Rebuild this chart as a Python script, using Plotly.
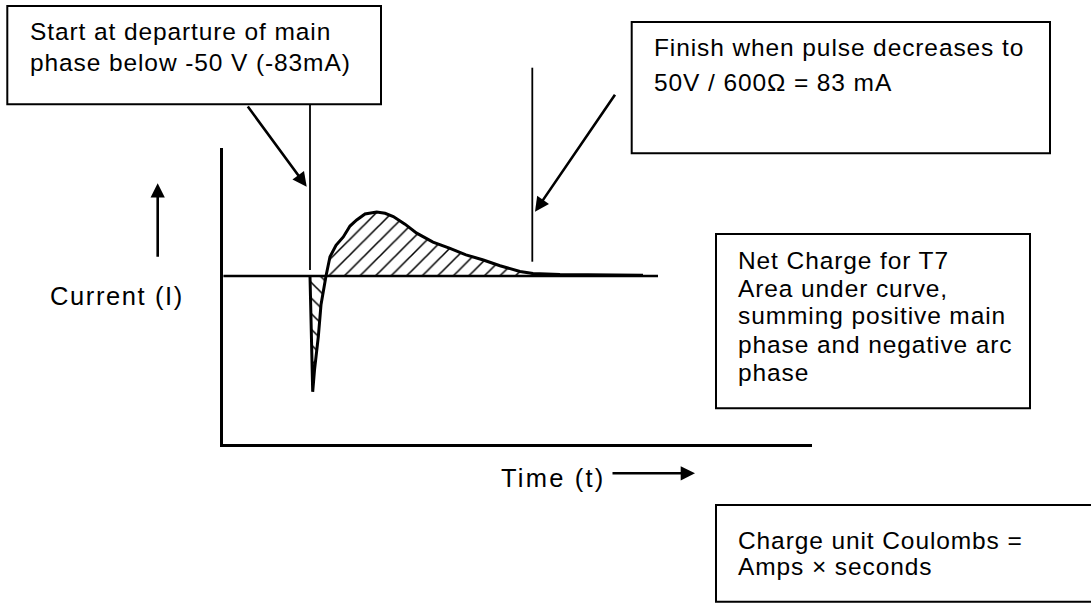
import plotly.graph_objects as go

# ---------------- data (arbitrary schematic units) ----------------
# time axis in arbitrary units, current normalised to the main-phase peak
t_baseline = [0.07, 43.6]
i_baseline = [0.0, 0.0]

# negative arc phase (spike)
t_arc = [8.8, 8.88, 8.95, 9.07, 9.25, 9.63, 9.9, 10.13, 10.4]
i_arc = [0.0, -0.6, -1.3, -1.81, -1.47, -0.95, -0.45, -0.22, 0.0]

# positive main phase
t_main = [10.4, 10.8, 11.4, 12.13, 12.8, 13.47, 14.3, 15.47, 16.3, 17.13, 18.3,
          19.47, 21.1, 22.8, 24.4, 26.13, 27.8, 29.8, 31.1, 33.8, 37.8, 42.1]
i_main = [0.0, 0.30, 0.48, 0.61, 0.78, 0.875, 0.97, 1.0, 0.98, 0.93, 0.81,
          0.67, 0.53, 0.43, 0.33, 0.25, 0.16, 0.07, 0.04, 0.023, 0.016, 0.01]

t_start = 8.8    # start marker
t_finish = 31.03 # finish marker

box1_lines = ["Start at departure of main", "phase below -50 V (-83mA)"]
box2_lines = ["Finish when pulse decreases to", "50V / 600\u03a9 = 83 mA"]
box3_lines = ["Net Charge for T7", "Area under curve,", "summing positive main",
              "phase and negative arc", "phase"]
box4_lines = ["Charge unit Coulombs =", "Amps \u00d7 seconds"]
y_label = "Current (I)"
x_label = "Time (t)"

# ---------------- layout helpers ----------------
W, H = 1091, 603
def PX(x):
    return x / W
def PY(y):
    return 1 - y / H

FONT = "Liberation Sans, Arial, sans-serif"
BOXFS = 24.5
LBLFS = 25.5

def styled(s, sp):
    return '<span style="letter-spacing:%.1fpx">%s</span>' % (sp, s)

fig = go.Figure()

hatch_neg = dict(shape="\\", size=11, solidity=0.14, fgcolor="black", bgcolor="white", fillmode="replace")
hatch_pos = dict(shape="/", size=11, solidity=0.14, fgcolor="black", bgcolor="white", fillmode="replace")

fig.add_trace(go.Scatter(x=t_arc, y=i_arc, mode="lines", line=dict(width=0, color="black"),
                         fill="tozeroy", fillpattern=hatch_neg, hoverinfo="skip"))
fig.add_trace(go.Scatter(x=t_main, y=i_main, mode="lines", line=dict(width=0, color="black"),
                         fill="tozeroy", fillpattern=hatch_pos, hoverinfo="skip"))
fig.add_trace(go.Scatter(x=t_baseline, y=i_baseline, mode="lines",
                         line=dict(width=2.7, color="black"), hoverinfo="skip"))
fig.add_trace(go.Scatter(x=t_arc + t_main[1:], y=i_arc + i_main[1:], mode="lines",
                         line=dict(width=3, color="black"), hoverinfo="skip"))

shapes = []
# marker lines
shapes.append(dict(type="line", xref="x", yref="paper", x0=t_start, x1=t_start,
                   y0=PY(105), y1=PY(270), line=dict(color="black", width=1.8)))
shapes.append(dict(type="line", xref="x", yref="paper", x0=t_finish, x1=t_finish,
                   y0=PY(67.7), y1=PY(261.7), line=dict(color="black", width=1.8)))
# text boxes
for (x0, y0, x1, y1) in [(7.3, 6, 381, 104.3), (631.7, 22, 1050, 153.3),
                         (716, 234, 1030, 408.3), (716, 505, 1100, 601.7)]:
    shapes.append(dict(type="rect", xref="paper", yref="paper", x0=PX(x0), x1=PX(x1),
                       y0=PY(y0), y1=PY(y1), line=dict(color="black", width=2)))

ann = []
def add_lines(lines, x, ys, fs, sp):
    for s, y in zip(lines, ys):
        ann.append(dict(text=styled(s, sp), x=PX(x - 1), y=PY(y), xref="paper", yref="paper",
                        xanchor="left", yanchor="middle", showarrow=False,
                        font=dict(family=FONT, size=fs, color="black")))

add_lines(box1_lines, 29.3, [32, 63], BOXFS, 0.9)
add_lines(box2_lines, 653.3, [48, 82.5], BOXFS, 0.9)
add_lines(box3_lines, 736.7, [260, 288, 316, 344, 372], BOXFS, 0.9)
add_lines(box4_lines, 736.7, [540, 566], BOXFS, 0.9)
add_lines([y_label], 49.3, [296], LBLFS, 1.6)
add_lines([x_label], 500, [477.5], LBLFS, 2.2)

# arrows (tip x,y ; tail offsets in px)
def arrow(tx, ty, sx, sy):
    ann.append(dict(text="", x=PX(tx), y=PY(ty), xref="paper", yref="paper",
                    ax=sx - tx, ay=sy - ty, axref="pixel", ayref="pixel",
                    showarrow=True, arrowhead=2, arrowsize=1.1, arrowwidth=2.6,
                    arrowcolor="black", standoff=0))
arrow(306.7, 186.7, 246.7, 105)
arrow(535, 211.7, 616, 93.3)
arrow(157.7, 183.3, 157.7, 258.3)
arrow(695, 473.3, 611, 473.3)

fig.update_layout(
    width=W, height=H, margin=dict(l=0, r=0, t=0, b=0),
    paper_bgcolor="white", plot_bgcolor="white", showlegend=False,
    shapes=shapes, annotations=ann,
    xaxis=dict(domain=[PX(223.4), PX(812)], range=[0.14, 59.0], showline=True,
               linecolor="black", linewidth=2.7, showgrid=False, zeroline=False,
               showticklabels=False, ticks="", fixedrange=True),
    yaxis=dict(domain=[PY(443.6), PY(148)], range=[-2.619, 2.0], showline=True,
               linecolor="black", linewidth=2.7, showgrid=False, zeroline=False,
               showticklabels=False, ticks="", fixedrange=True),
)

fig.write_html("out.html", config={"displayModeBar": False},
               post_script="document.body.style.margin='0';document.body.style.overflow='hidden';")
